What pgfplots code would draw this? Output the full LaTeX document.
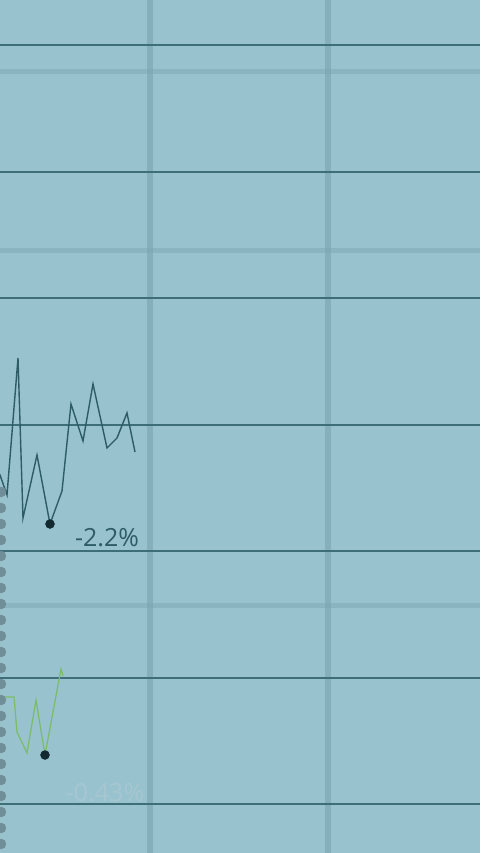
\documentclass[border=0pt]{standalone}
\usepackage{pgfplots}
\pgfplotsset{compat=1.18}
\usepackage{fontspec}
\setmainfont{Open Sans}

\definecolor{bg}{RGB}{152,194,205}
\definecolor{gridDark}{RGB}{62,110,120}
\definecolor{gridFaint}{RGB}{120,165,178}
\definecolor{gridVert}{RGB}{124,166,177}
\definecolor{seriesDark}{RGB}{45,92,102}
\definecolor{seriesGreen}{RGB}{122,188,104}
\definecolor{dotDark}{RGB}{18,42,48}
\definecolor{edge}{RGB}{112,142,152}
\definecolor{fadeText}{RGB}{166,199,209}

\begin{document}
\begin{tikzpicture}
\begin{axis}[
    width=480pt, height=853pt, scale only axis,
    xmin=0, xmax=480, ymin=0, ymax=853, y dir=reverse,
    axis line style={draw=none},
    axis background/.style={fill=bg},
    major tick length=0pt,
    tick label style={inner sep=0pt, font=\tiny},
    xtick={150,328}, xticklabels={},
    ytick={45,172,298,425,551,678,804}, yticklabels={},
    xmajorgrids, ymajorgrids,
    x grid style={gridVert, line width=6pt, opacity=0.65},
    y grid style={gridDark, line width=2.8pt},
    clip=true,
]
% faint in-between rules
\addplot[gridFaint, line width=5pt, opacity=0.45, forget plot] coordinates {(0,72) (480,72)};
\addplot[gridFaint, line width=5pt, opacity=0.45, forget plot] coordinates {(0,250) (480,250)};
\addplot[gridFaint, line width=5pt, opacity=0.45, forget plot] coordinates {(0,605) (480,605)};

% dark series, y in pixels from the top
\addplot[seriesDark, line width=1.4pt] coordinates {
    (-8,460) (0,475) (7,495) (18,358) (23,518) (37,455) (50,524)
    (62,491) (71,404) (83,441) (93,384) (107,448) (117,438) (127,413) (135,452)
};
\addplot[only marks, mark=*, mark size=4.5pt, dotDark] coordinates {(50,524)};

% green series
\addplot[seriesGreen, line width=1.2pt] coordinates {
    (-6,690) (0,697) (14,697) (17,732) (27,753) (36,700) (45,755) (61,669) (63,676)
};
\addplot[only marks, mark=*, mark size=4.5pt, dotDark] coordinates {(45,755)};

% perforated left edge
\addplot[only marks, mark=*, mark size=5pt, edge] coordinates {
    (1,492) (1,508) (1,524) (1,540) (1,556) (1,572) (1,588) (1,604)
    (1,620) (1,636) (1,652) (1,668) (1,684) (1,700) (1,716) (1,732)
    (1,748) (1,764) (1,780) (1,796) (1,812) (1,828) (1,844)
};

\node[text=seriesDark, font=\fontsize{25}{28}\selectfont] at (axis cs:107,538) {-2.2\%};
\node[text=fadeText, font=\fontsize{25}{28}\selectfont] at (axis cs:105,793) {-0.43\%};
\end{axis}
\pgfresetboundingbox
\path[use as bounding box] (0,0) rectangle (480pt,853pt);
\end{tikzpicture}
\end{document}
